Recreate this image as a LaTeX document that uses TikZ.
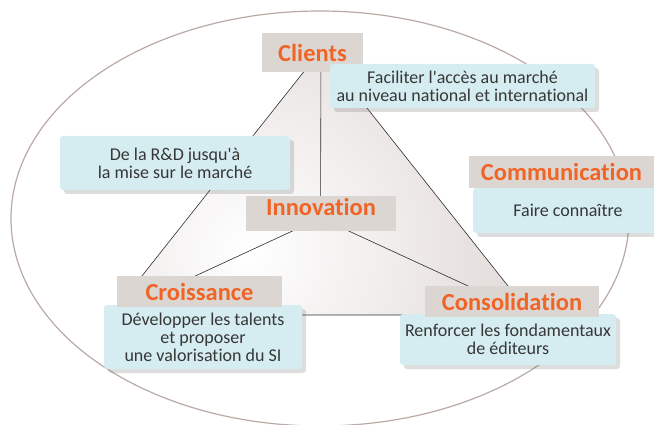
\documentclass[tikz,border=0pt]{standalone}
\usepackage{fontspec}
\setmainfont{Carlito}[Ligatures={NoCommon}]
\usetikzlibrary{shadows}
\definecolor{headorange}{RGB}{240,100,38}
\definecolor{headgray}{RGB}{220,214,211}
\definecolor{bluebox}{RGB}{213,236,240}
\definecolor{ellcol}{RGB}{185,170,165}
\definecolor{tricol}{RGB}{210,200,196}
\definecolor{bodytext}{RGB}{55,55,55}
\definecolor{linecol}{RGB}{45,45,45}
\begin{document}
\begin{tikzpicture}[x=1pt,y=-1pt,
  headbox/.style={fill=headgray, inner sep=0pt, text=headorange, font=\fontsize{24.5}{26}\selectfont\bfseries},
  infobox/.style={fill=bluebox, rounded corners=3pt, inner sep=0pt, align=center, text=bodytext,
    font=\fontsize{18}{18}\selectfont,
    drop shadow={shadow xshift=4pt, shadow yshift=-4pt, opacity=0.22, fill=black!60}},
  triline/.style={draw=linecol, line width=0.6pt},
  ringline/.style={draw=ellcol, line width=1.2pt}
]
\useasboundingbox (0,0) rectangle (654,425);
% outer ellipse
\draw[ringline] (320,218.5) ellipse [x radius=309, y radius=207.5];
% triangle
\coordinate (A) at (321,50);
\coordinate (B) at (111,315);
\coordinate (C) at (531,315);
\coordinate (ctr) at (320.5,218);
\begin{scope}
  \clip (A) -- (B) -- (C) -- cycle;
  \shade[inner color=white, outer color=tricol] (250,250) circle (420);
\end{scope}
\draw[triline] (A) -- (B) -- (C) -- cycle;
\draw[triline] (ctr) -- (A);
\draw[triline] (ctr) -- (B);
\draw[triline] (ctr) -- (C);
% boxes
\node[headbox, minimum width=101pt, minimum height=39pt] (clients) at (312.5,52.5) {Clients};
\node[infobox, minimum width=265pt, minimum height=44pt] (faciliter) at (462.5,86)
  {Faciliter l\textquotesingle accès au marché\\au niveau national et international};
\node[infobox, minimum width=230pt, minimum height=54pt] (rd) at (175,163)
  {De la R\&D jusqu\textquotesingle à\\la mise sur le marché};
\node[headbox, minimum width=150pt, minimum height=35pt] (innovation) at (321,213.5) {\raisebox{-2.5pt}[0pt][0pt]{Innovation}};
\node[infobox, minimum width=190pt, minimum height=45pt] (faire) at (568,210.5) {Faire connaître};
\node[headbox, minimum width=185pt, minimum height=32pt] (communication) at (561.5,172) {Communication};
\node[infobox, minimum width=198pt, minimum height=64pt] (croissanceinfo) at (203,337)
  {Développer les talents\\et proposer\\une valorisation du SI};
\node[headbox, minimum width=165pt, minimum height=31pt] (croissance) at (199.5,291.5) {Croissance};
\node[infobox, minimum width=216pt, minimum height=51pt] (consolidationinfo) at (508,339.5)
  {Renforcer les fondamentaux\\de éditeurs};
\node[headbox, minimum width=174pt, minimum height=31pt] (consolidation) at (512,301.5) {Consolidation};
\end{tikzpicture}
\end{document}
